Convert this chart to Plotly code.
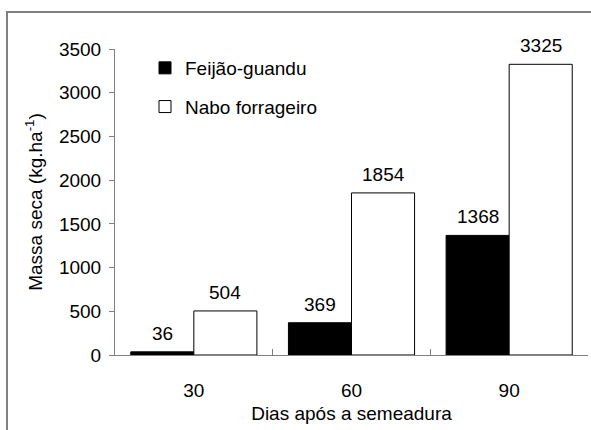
import plotly.graph_objects as go

categories = ["30", "60", "90"]
feijao = [36, 369, 1368]
nabo = [504, 1854, 3325]
series_names = ["Feijão-guandu", "Nabo forrageiro"]
y_ticks = [0, 500, 1000, 1500, 2000, 2500, 3000, 3500]

FONT = "Liberation Sans, Arial, sans-serif"
FS = 19

fig = go.Figure()
fig.add_trace(go.Bar(x=categories, y=feijao, name=series_names[0],
                     marker=dict(color="black", line=dict(color="black", width=1)),
                     legendgroup="a"))
fig.add_trace(go.Bar(x=categories, y=nabo, name=series_names[1],
                     marker=dict(color="white", line=dict(color="black", width=1)),
                     legendgroup="b"))

annotations = []
for i, c in enumerate(categories):
    for vals, shift in ((feijao, -31.5), (nabo, 31.5)):
        annotations.append(dict(x=i, y=vals[i], xref="x", yref="y", text=str(vals[i]),
                                showarrow=False, xshift=shift, yanchor="bottom", yshift=6,
                                font=dict(family=FONT, size=FS, color="black")))

W, H = 591, 430
L, R, T, B = 115, 3, 49, 75
pw, ph = W - L - R, H - T - B
fig.update_layout(
    width=W, height=H,
    margin=dict(l=L, r=R, t=T, b=B, autoexpand=False),
    paper_bgcolor="white", plot_bgcolor="white",
    font=dict(family=FONT, size=FS, color="black"),
    barmode="group", bargap=0.2, bargroupgap=0,
    showlegend=True,
    legend=dict(x=(145 - L) / pw, y=1 - (49 - T) / ph, xanchor="left", yanchor="top",
                bgcolor="rgba(0,0,0,0)", font=dict(family=FONT, size=FS),
                tracegroupgap=11, traceorder="grouped"),
    annotations=annotations,
    shapes=[dict(type="path", xref="paper", yref="paper",
                 path=f"M {(7 - L) / pw} -0.5 L {(7 - L) / pw} {1 + (T - 12) / ph} L 1.2 {1 + (T - 12) / ph}",
                 line=dict(color="#808080", width=2))],
    xaxis=dict(type="category", range=[-0.5, 2.5], showline=True, linecolor="#808080", linewidth=1,
               ticks="inside", ticklen=6, tickcolor="#808080", tickson="boundaries",
               tickangle=0, ticklabelstandoff=18, showgrid=False, zeroline=False,
               title=dict(text="Dias após a semeadura", standoff=6,
                          font=dict(family=FONT, size=FS))),
    yaxis=dict(range=[0, 3500], tickvals=y_ticks, showline=True, linecolor="#808080",
               linewidth=1, ticks="outside", ticklen=5, tickcolor="#808080",
               ticklabelstandoff=4, showgrid=False, zeroline=False,
               title=dict(text="Massa seca (kg.ha<sup>-1</sup>)", standoff=11,
                          font=dict(family=FONT, size=FS))),
)

fig.write_html("out.html", config={"displayModeBar": False},
               post_script="document.body.style.margin='0';")
